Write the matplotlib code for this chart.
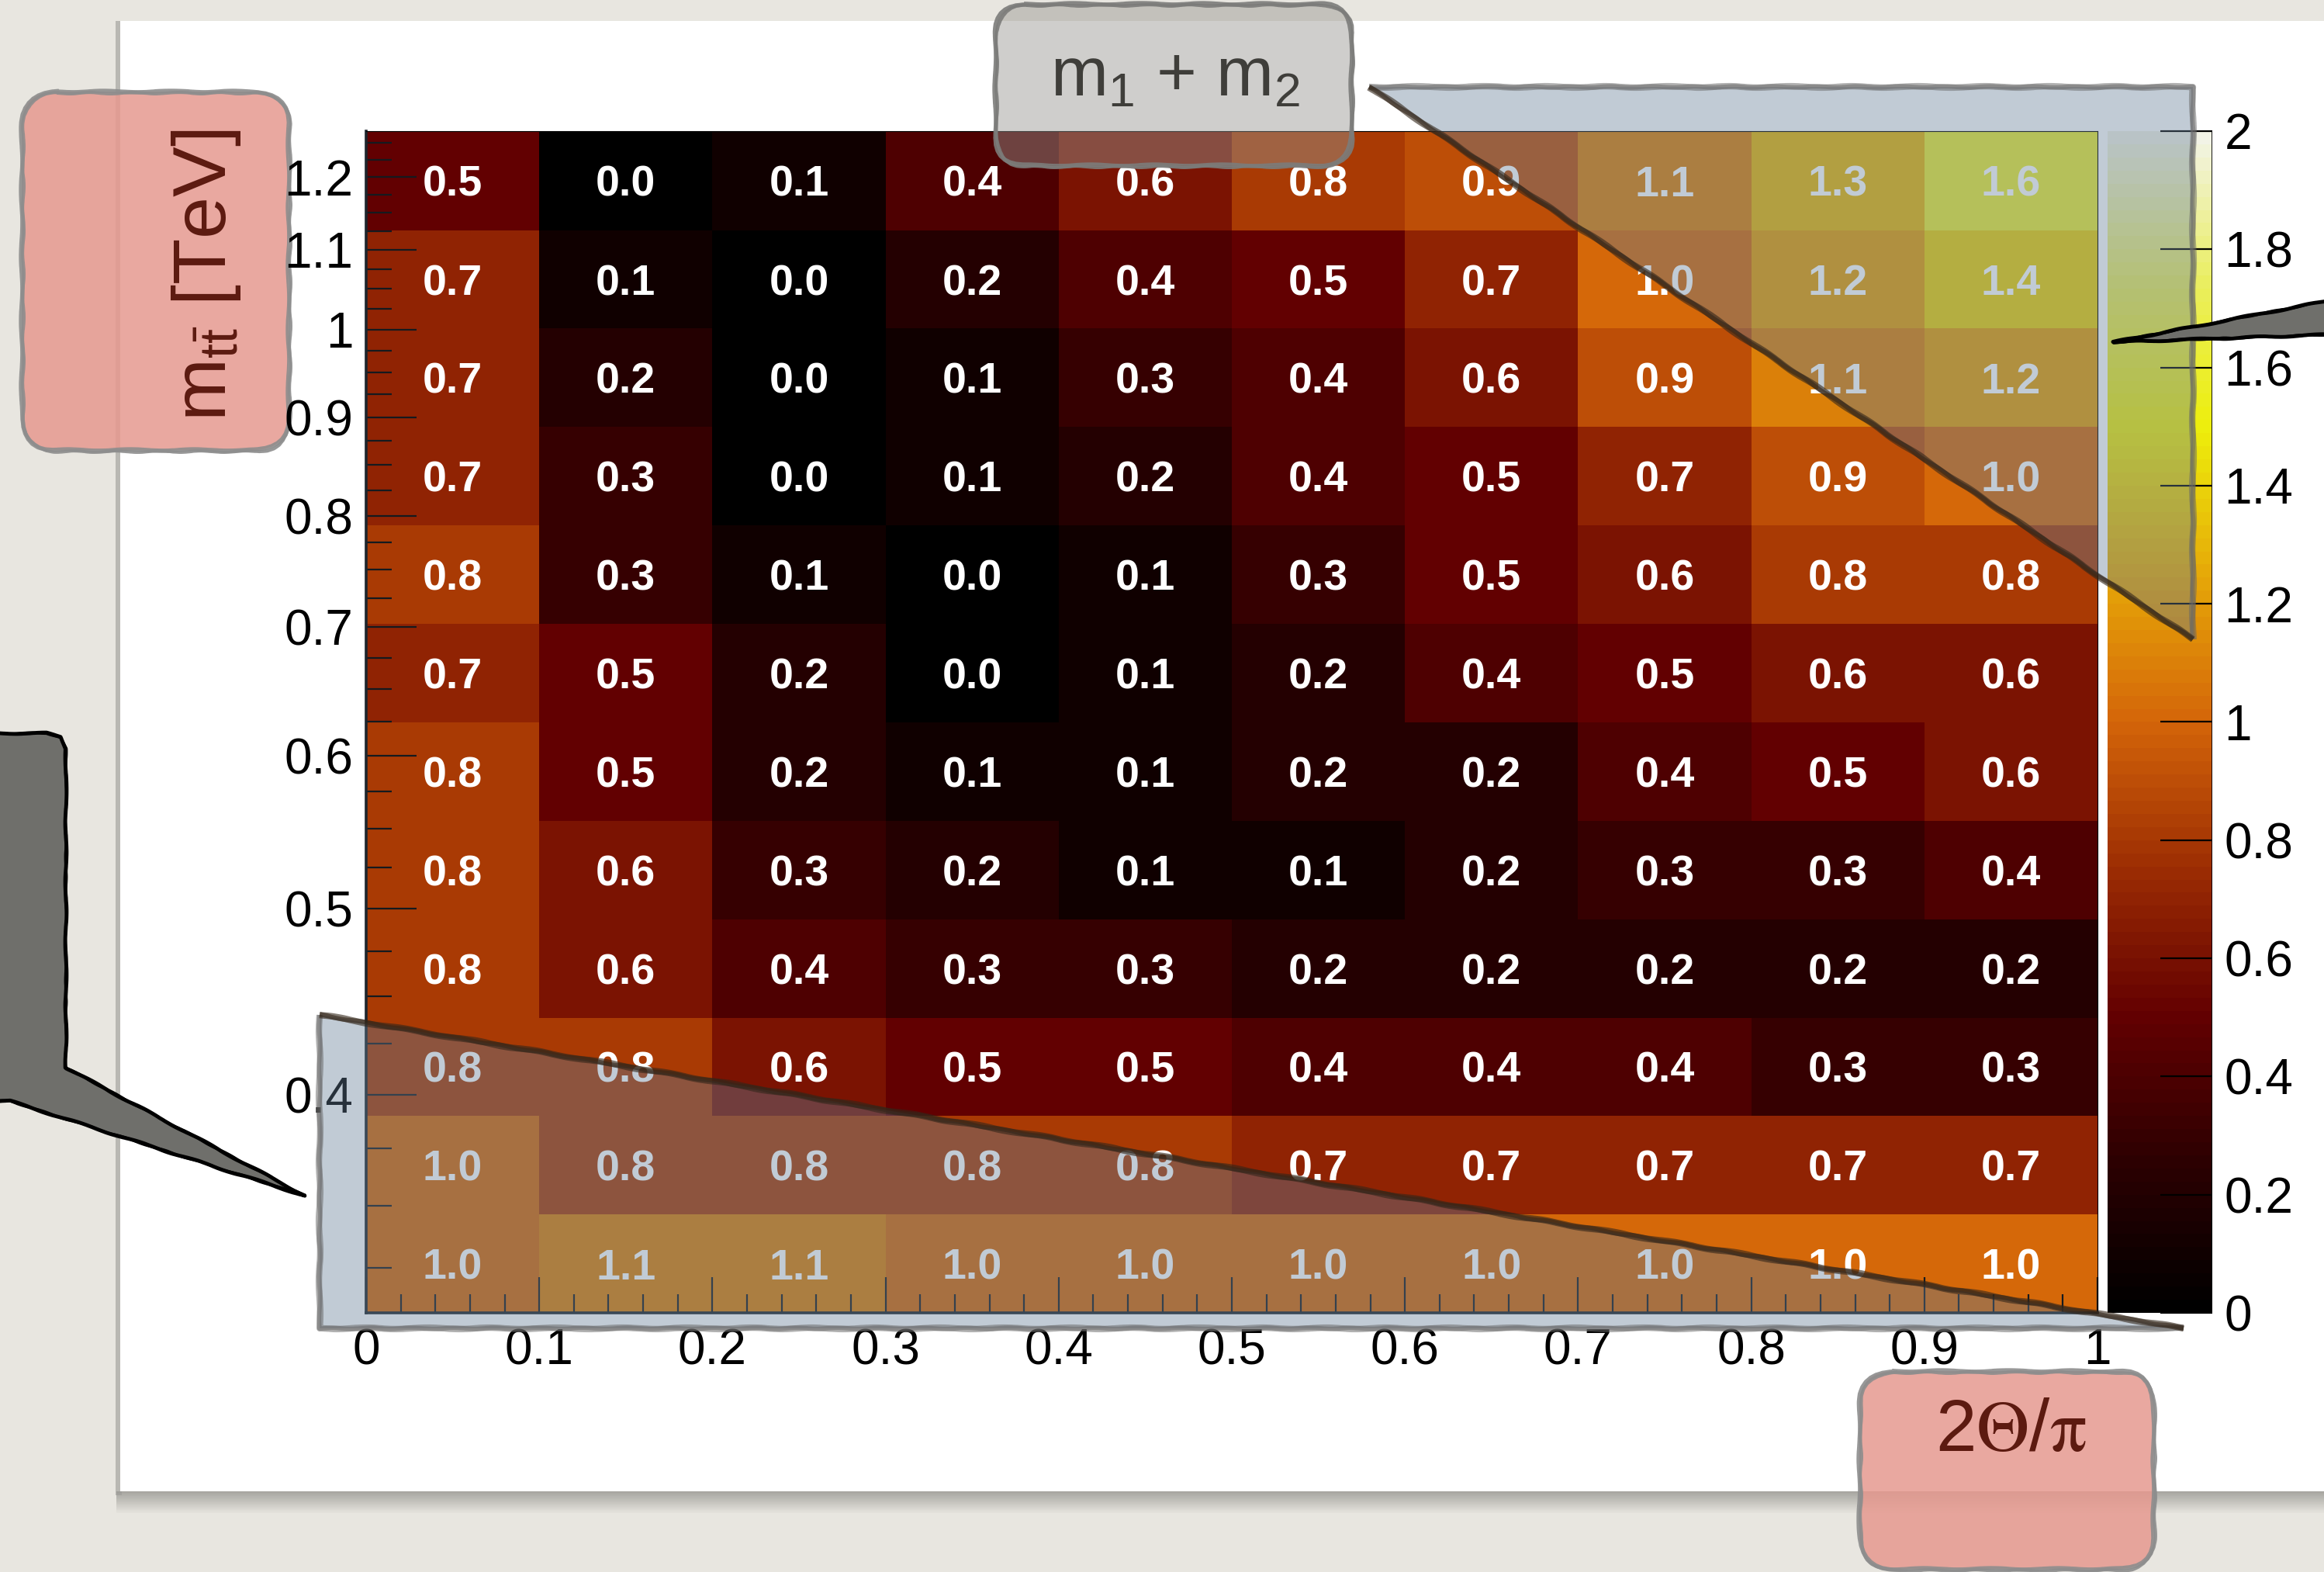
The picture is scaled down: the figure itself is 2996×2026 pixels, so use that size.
import numpy as np
import matplotlib
matplotlib.use("Agg")
import matplotlib.pyplot as plt
from matplotlib.colors import LinearSegmentedColormap
from matplotlib.patches import FancyBboxPatch, Polygon, Rectangle
from matplotlib.ticker import FixedLocator, NullFormatter
from matplotlib.transforms import offset_copy

plt.rcParams['font.family'] = ['Liberation Sans', 'DejaVu Sans']

# bin contents, highest m_tt row first
values = [
    [0.5, 0.0, 0.1, 0.4, 0.6, 0.8, 0.9, 1.1, 1.3, 1.6],
    [0.7, 0.1, 0.0, 0.2, 0.4, 0.5, 0.7, 1.0, 1.2, 1.4],
    [0.7, 0.2, 0.0, 0.1, 0.3, 0.4, 0.6, 0.9, 1.1, 1.2],
    [0.7, 0.3, 0.0, 0.1, 0.2, 0.4, 0.5, 0.7, 0.9, 1.0],
    [0.8, 0.3, 0.1, 0.0, 0.1, 0.3, 0.5, 0.6, 0.8, 0.8],
    [0.7, 0.5, 0.2, 0.0, 0.1, 0.2, 0.4, 0.5, 0.6, 0.6],
    [0.8, 0.5, 0.2, 0.1, 0.1, 0.2, 0.2, 0.4, 0.5, 0.6],
    [0.8, 0.6, 0.3, 0.2, 0.1, 0.1, 0.2, 0.3, 0.3, 0.4],
    [0.8, 0.6, 0.4, 0.3, 0.3, 0.2, 0.2, 0.2, 0.2, 0.2],
    [0.8, 0.8, 0.6, 0.5, 0.5, 0.4, 0.4, 0.4, 0.3, 0.3],
    [1.0, 0.8, 0.8, 0.8, 0.8, 0.7, 0.7, 0.7, 0.7, 0.7],
    [1.0, 1.1, 1.1, 1.0, 1.0, 1.0, 1.0, 1.0, 1.0, 1.0],
]
theta_edges = [0.0, 0.1, 0.2, 0.3, 0.4, 0.5, 0.6, 0.7, 0.8, 0.9, 1.0]
mtt_edges = [0.308, 0.3465, 0.3899, 0.4386, 0.4935, 0.5553, 0.6247,
             0.7028, 0.7908, 0.8897, 1.001, 1.126, 1.268]

x_ticks = [0.0, 0.1, 0.2, 0.3, 0.4, 0.5, 0.6, 0.7, 0.8, 0.9, 1.0]
x_labels = ['0', '0.1', '0.2', '0.3', '0.4', '0.5', '0.6', '0.7', '0.8', '0.9', '1']
y_ticks = [0.4, 0.5, 0.6, 0.7, 0.8, 0.9, 1.0, 1.1, 1.2]
y_labels = ['0.4', '0.5', '0.6', '0.7', '0.8', '0.9', '1', '1.1', '1.2']
z_ticks = [0.0, 0.2, 0.4, 0.6, 0.8, 1.0, 1.2, 1.4, 1.6, 1.8, 2.0]
z_labels = ['0', '0.2', '0.4', '0.6', '0.8', '1', '1.2', '1.4', '1.6', '1.8', '2']

# dark body radiator palette
stops = [0.0, 0.125, 0.25, 0.375, 0.5, 0.625, 0.75, 0.875, 1.0]
rgb = [(0, 0, 0), (45, 0, 1), (99, 0, 1), (156, 45, 3), (212, 101, 9),
       (230, 168, 8), (237, 238, 11), (234, 238, 95), (242, 243, 230)]
cmap = LinearSegmentedColormap.from_list(
    'darkbody', [(s, tuple(c / 255 for c in col)) for s, col in zip(stops, rgb)], N=90)

W, H = 2996, 2026
fig = plt.figure(figsize=(W / 100, H / 100), dpi=100)


def box(x0, y0, x1, y1):
    return [x0 / W, 1 - y1 / H, (x1 - x0) / W, (y1 - y0) / H]


def pixel_axes(z):
    a = fig.add_axes([0, 0, 1, 1], zorder=z)
    a.set_xlim(0, W)
    a.set_ylim(H, 0)
    a.axis('off')
    a.patch.set_visible(False)
    return a


def sketch_edge(a, pts, closed, color, lw, alpha=1.0, z=3):
    # two rough pencil passes over the same outline
    for k, (sc, ln) in enumerate([(0.9, 90), (0.7, 60)]):
        e = Polygon(pts, closed=closed, fill=False, edgecolor=color, lw=lw * (1 - 0.3 * k),
                    alpha=alpha, joinstyle='round', zorder=z)
        e.set_sketch_params(sc, ln, 2)
        a.add_patch(e)


def card(a, x, y, w, h, r, fc, alpha, ec, z):
    a.add_patch(FancyBboxPatch((x, y), w, h, boxstyle=f'round,pad=0,rounding_size={r}',
                               fc=fc, alpha=alpha, ec='none', zorder=z))
    for k in range(2):
        e = FancyBboxPatch((x + 2 * k, y + 2 * k), w, h,
                           boxstyle=f'round,pad=0,rounding_size={r}',
                           fill=False, ec=ec, lw=4 - k, alpha=0.9, zorder=z + 1)
        e.set_sketch_params(0.9, 90 - 30 * k, 2)
        a.add_patch(e)


# slide background
bg = pixel_axes(0)
bg.add_patch(Rectangle((0, 0), W, H, color='#e8e6e0'))
for i in range(14):
    bg.add_patch(Rectangle((150, 1922 + 2 * i), W, 2, color='#5a5a55',
                           alpha=0.45 * (1 - i / 14), lw=0))
bg.add_patch(Rectangle((149, 27), 8, 1900, color='#9a9a96', lw=0, alpha=0.6))
bg.add_patch(Rectangle((155, 27), W, 1895, color='white', lw=0))

# y-axis title card
card(bg, 28, 118, 344, 462, 45, (0.90, 0.60, 0.56), 0.85, '#8d8d8d', 2)
bg.text(266, 355, r'm$_{\mathregular{t\bar{t}}}$ [TeV]', rotation=90, fontsize=70,
        color='#5c1a10', ha='center', va='center', zorder=4)

# histogram
ax = fig.add_axes(box(472, 169, 2704, 1692), zorder=2)
Z = np.array(values)[::-1]
mesh = ax.pcolormesh(theta_edges, mtt_edges, Z, cmap=cmap, vmin=0, vmax=2)
ax.set_yscale('log')
ax.set_xlim(theta_edges[0], theta_edges[-1])
ax.set_ylim(mtt_edges[0], mtt_edges[-1])

lab_tr = offset_copy(ax.transData, fig=fig, x=0, y=-20, units='dots')
for i in range(Z.shape[0]):
    yc = np.sqrt(mtt_edges[i] * mtt_edges[i + 1])
    for j in range(Z.shape[1]):
        xc = 0.5 * (theta_edges[j] + theta_edges[j + 1])
        ax.text(xc, yc, f'{Z[i, j]:.1f}', transform=lab_tr, ha='center', va='baseline',
                color='white', fontsize=40, fontweight='bold')

ax.set_xticks(x_ticks)
ax.set_xticklabels(x_labels)
ax.xaxis.set_minor_locator(FixedLocator(np.arange(0.02, 1.0, 0.02)))
ax.set_yticks(y_ticks)
ax.set_yticklabels(y_labels)
ax.yaxis.set_minor_locator(FixedLocator(np.arange(0.325, 1.26, 0.025)))
ax.yaxis.set_minor_formatter(NullFormatter())
ax.tick_params(which='both', direction='in', top=False, right=False, width=1.6,
               color='#151a1f', labelsize=46)
ax.tick_params(axis='x', which='major', length=33, pad=14)
ax.tick_params(axis='x', which='minor', length=17)
ax.tick_params(axis='y', which='major', length=47, pad=12)
ax.tick_params(axis='y', which='minor', length=24)
for s in ('left', 'bottom'):
    ax.spines[s].set_linewidth(2.6)
    ax.spines[s].set_color('#1d252c')
for s in ('top', 'right'):
    ax.spines[s].set_linewidth(0.8)
    ax.spines[s].set_color('black')

# palette axis
cax = fig.add_axes(box(2717, 169, 2852, 1692), zorder=2)
cb = fig.colorbar(mesh, cax=cax, ticks=z_ticks)
cb.set_ticklabels(z_labels)
cb.outline.set_visible(False)
cax.minorticks_off()
cax.tick_params(direction='in', length=48, width=1.6, labelsize=46, pad=11)
cax.axvline(1, color='black', lw=2)

# annotation layer on top of the chart
ov = pixel_axes(5)
tri_face = (100 / 255, 125 / 255, 150 / 255)
top_tri = [(1765, 112), (2827, 112), (2827, 824)]
low_tri = [(412, 1308), (412, 1712), (2815, 1712)]
for tri, legs, hyp in ((top_tri, [top_tri[0], top_tri[1], top_tri[2]], [top_tri[2], top_tri[0]]),
                       (low_tri, [low_tri[0], low_tri[1], low_tri[2]], [low_tri[2], low_tri[0]])):
    ov.add_patch(Polygon(tri, closed=True, fc=tri_face, alpha=0.4, ec='none', zorder=2))
    sketch_edge(ov, legs, False, (0.4, 0.4, 0.4), 6, alpha=0.5)
    sketch_edge(ov, hyp, False, (0.2, 0.15, 0.1), 6, alpha=0.6)

card(ov, 1283, 5, 459, 208, 40, (150 / 255, 148 / 255, 143 / 255), 0.45, '#7c7c7a', 4)
ov.text(1515, 123, r'm$_\mathregular{1}$ + m$_\mathregular{2}$', fontsize=64,
        color='#3f3e3a', ha='center', va='baseline', zorder=6)

card(ov, 2397, 1767, 379, 255, 45, (0.90, 0.60, 0.56), 0.85, '#8d8d8d', 4)
ov.text(2592, 1870, r'2$\mathrm{\Theta}$/$\mathrm{\pi}$', math_fontfamily='stix',
        fontsize=68, color='#5c1a10', ha='center', va='baseline', zorder=6)

# speech-bubble pointers
left_call = [(-20, 945), (60, 945), (78, 950), (85, 965), (85, 1376), (393, 1541),
             (13, 1419), (-20, 1419)]
ov.add_patch(Polygon(left_call, closed=True, fc='#6f6f6b', ec='none', zorder=7))
sketch_edge(ov, left_call, True, 'black', 3.5, z=8)
right_call = [(3010, 386), (2724, 441), (3010, 431)]
ov.add_patch(Polygon(right_call, closed=True, fc='#6f6f6b', ec='none', zorder=7))
sketch_edge(ov, right_call, True, 'black', 3.5, z=8)

fig.savefig('out.png', dpi=100)
